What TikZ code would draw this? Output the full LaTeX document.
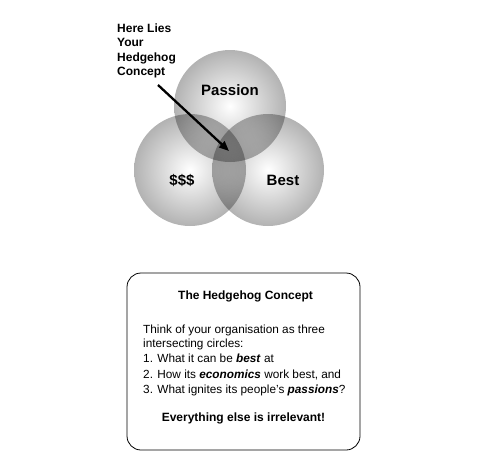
\documentclass[tikz,border=0pt]{standalone}
\usepackage{fontspec}
\setmainfont{Liberation Sans}
\usetikzlibrary{arrows.meta}
\definecolor{circgray}{gray}{0.70}
\begin{document}
\begin{tikzpicture}[x=1pt,y=-1pt,
  bubble/.style={blend mode=multiply, inner color=white, outer color=circgray},
  circlabel/.style={font=\bfseries\fontsize{15}{18}\selectfont, anchor=base, inner sep=0pt},
  heretext/.style={font=\bfseries\fontsize{12}{14}\selectfont, anchor=base west, inner sep=0pt},
  boxtext/.style={font=\fontsize{11.8}{14}\selectfont, anchor=base west, inner sep=0pt},
  boxtitle/.style={font=\bfseries\fontsize{12}{14}\selectfont, anchor=base, inner sep=0pt},
  panel/.style={draw, line width=0.8pt, rounded corners=14pt, minimum width=233pt, minimum height=177pt, inner sep=0pt}]
\useasboundingbox (0,0) rectangle (489,463);
% circles
\shade[bubble] (230,106) circle (56pt);
\shade[bubble] (190,170) circle (56pt);
\shade[bubble] (268,170) circle (56pt);
% circle labels
\node[circlabel] (passion) at (230,95.5) {Passion};
\node[circlabel] (money) at (182,185.5) {\$\$\$};
\node[circlabel] (best) at (283,185.5) {Best};
% here lies text
\node[heretext] (here) at (117,32) {Here Lies};
\node[heretext] (your) at (117,46.6) {Your};
\node[heretext] (hedgehog) at (117,61.2) {Hedgehog};
\node[heretext] (concept) at (117,75.8) {Concept};
% arrow
\coordinate (arrowtail) at (158,85);
\coordinate (arrowtip) at (229,151);
\draw[line width=2.3pt, -{Triangle[length=10pt,width=8pt]}] (arrowtail) -- (arrowtip);
% box
\node[panel] (box) at (243.5,361.5) {};
\node[boxtitle] (title) at (245.5,299) {The Hedgehog Concept};
\node[boxtext] (l1) at (143,333.3) {Think of your organisation as three};
\node[boxtext] (l2) at (143,347.3) {intersecting circles:};
\node[boxtext] (l3) at (143,362.8) {1. What it can be \textbf{\textit{best}} at};
\node[boxtext] (l4) at (143,378.3) {2. How its \textbf{\textit{economics}} work best, and};
\node[boxtext] (l5) at (143,393.5) {3. What ignites its people’s \textbf{\textit{passions}}?};
\node[boxtitle] (last) at (243.5,421.7) {Everything else is irrelevant!};
\end{tikzpicture}
\end{document}
